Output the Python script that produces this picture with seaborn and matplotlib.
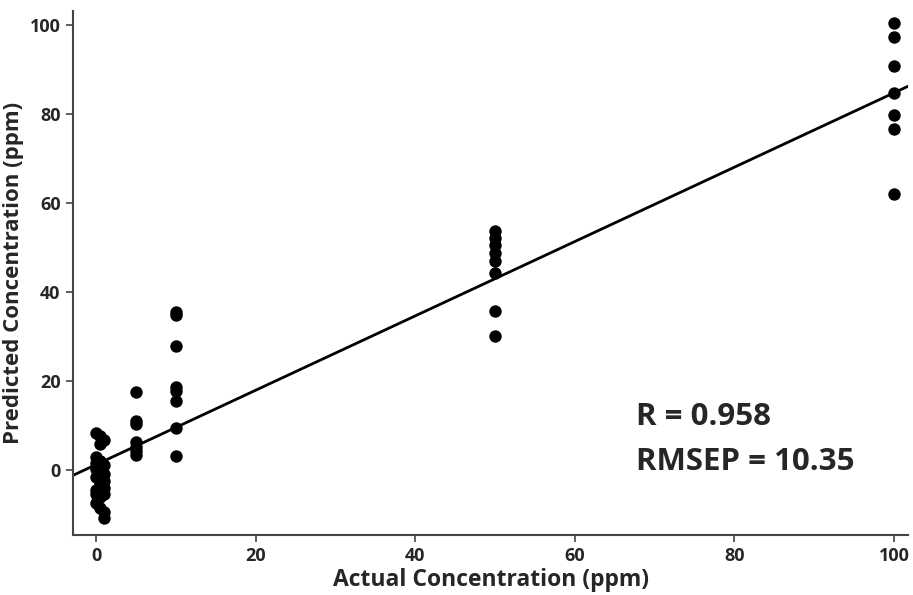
import numpy as np
import pandas as pd
import matplotlib
matplotlib.use("Agg")
import matplotlib.pyplot as plt
import seaborn as sns

# ---- data ----
actual_0 = [0, 0, 0, 0, 0, 0, 0, 0]
pred_0 = [8.2, 3.0, 1.5, 0.2, -1.5, -4.5, -5.5, -7.5]
actual_05 = [0.5, 0.5, 0.5, 0.5, 0.5, 0.5, 0.5]
pred_05 = [7.6, 5.8, 2.0, -0.5, -3.0, -6.0, -8.5]
actual_1 = [1, 1, 1, 1, 1, 1, 1, 1]
pred_1 = [6.8, 1.0, -1.0, -2.5, -4.0, -5.5, -9.5, -10.8]
actual_5 = [5, 5, 5, 5, 5, 5, 5]
pred_5 = [17.6, 11.0, 10.2, 6.2, 5.2, 4.3, 3.4]
actual_10 = [10, 10, 10, 10, 10, 10, 10, 10]
pred_10 = [35.5, 34.7, 27.8, 18.6, 17.8, 15.4, 9.4, 3.1]
actual_50 = [50, 50, 50, 50, 50, 50, 50, 50]
pred_50 = [53.7, 52.0, 50.5, 48.7, 47.0, 44.3, 35.7, 30.0]
actual_100 = [100, 100, 100, 100, 100, 100, 100]
pred_100 = [100.3, 97.3, 90.7, 84.7, 79.7, 76.6, 62.0]

fit_slope = 0.835
fit_intercept = 1.2

x_ticks = [0, 20, 40, 60, 80, 100]
y_ticks = [0, 20, 40, 60, 80, 100]
stats_text = ["R = 0.958", "RMSEP = 10.35"]
x_label = "Actual Concentration (ppm)"
y_label = "Predicted Concentration (ppm)"

df = pd.DataFrame({
    "actual": actual_0 + actual_05 + actual_1 + actual_5 + actual_10 + actual_50 + actual_100,
    "predicted": pred_0 + pred_05 + pred_1 + pred_5 + pred_10 + pred_50 + pred_100,
})

sns.set_theme(style="white")
plt.rcParams["font.family"] = ["Open Sans", "DejaVu Sans"]

fig = plt.figure(figsize=(9.13, 5.95), dpi=100)
ax = fig.add_axes([0.080, 0.101, 0.915, 0.880])

xlim = (-2.9, 101.8)
ylim = (-14.6, 103.0)
ax.set_xlim(*xlim)
ax.set_ylim(*ylim)

line_x = np.array(xlim)
line_df = pd.DataFrame({"x": line_x, "y": fit_slope * line_x + fit_intercept})
sns.lineplot(data=line_df, x="x", y="y", ax=ax, color="black", linewidth=2.0, zorder=2)

sns.scatterplot(data=df, x="actual", y="predicted", ax=ax, color="black",
                s=80, edgecolor="black", linewidth=0, zorder=3)

ax.set_xticks(x_ticks)
ax.set_yticks(y_ticks)
ax.set_xticklabels([str(t) for t in x_ticks], fontsize=13, fontweight="bold")
ax.set_yticklabels([str(t) for t in y_ticks], fontsize=13, fontweight="bold")
ax.tick_params(axis="both", direction="out", length=5, width=1.2, color="#444444",
               bottom=True, left=True, pad=4)
ax.set_xlabel(x_label, fontsize=16.5, fontweight="bold", labelpad=2)
ax.set_ylabel(y_label, fontsize=16, fontweight="bold", labelpad=4)

for side in ["top", "right"]:
    ax.spines[side].set_visible(False)
for side in ["left", "bottom"]:
    ax.spines[side].set_color("#444444")
    ax.spines[side].set_linewidth(1.5)

ax.text(0.674, 0.210, stats_text[0], transform=ax.transAxes,
        fontsize=22.5, fontweight="bold", va="baseline", ha="left")
ax.text(0.674, 0.124, stats_text[1], transform=ax.transAxes,
        fontsize=22.5, fontweight="bold", va="baseline", ha="left")

fig.savefig("out.png", dpi=100)
